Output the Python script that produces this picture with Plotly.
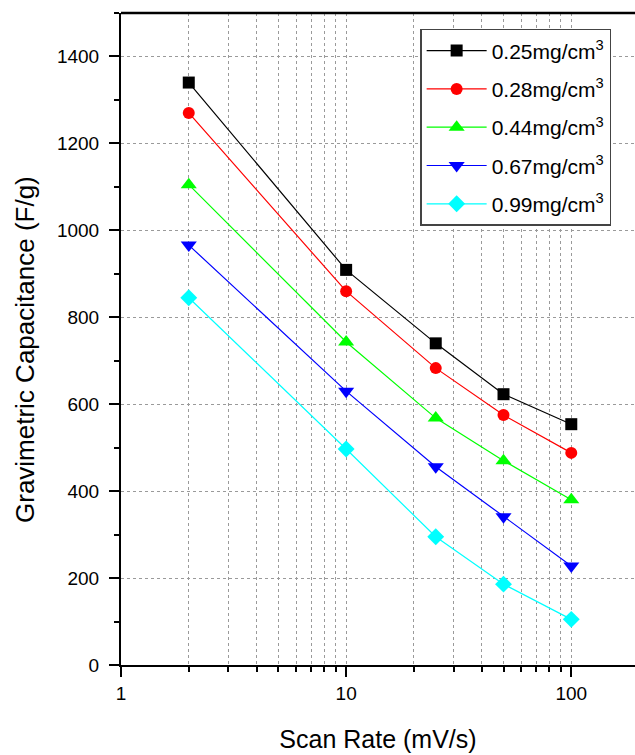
import plotly.graph_objects as go

scan_rate = [2, 10, 25, 50, 100]
labels = ["0.25mg/cm<sup>3</sup>", "0.28mg/cm<sup>3</sup>", "0.44mg/cm<sup>3</sup>",
          "0.67mg/cm<sup>3</sup>", "0.99mg/cm<sup>3</sup>"]
cap_025 = [1340, 909, 740, 623, 554]
cap_028 = [1270, 860, 683, 575, 488]
cap_044 = [1105, 743, 568, 470, 380]
cap_067 = [966, 630, 456, 341, 228]
cap_099 = [845, 497, 295, 186, 105]

series = [cap_025, cap_028, cap_044, cap_067, cap_099]
colors = ["#000000", "#FF0000", "#00FF00", "#0000FF", "#00FFFF"]
symbols = ["square", "circle", "triangle-up", "triangle-down", "diamond"]
sizes = [12, 12, 14, 14, 13]

FONT = "Arial, Liberation Sans, sans-serif"

fig = go.Figure()
for i, (vals, lab) in enumerate(zip(series, labels)):
    fig.add_trace(go.Scatter(
        x=scan_rate, y=vals, name=lab, mode="lines+markers",
        legendgroup=f"g{i}",
        line=dict(color=colors[i], width=1.2),
        marker=dict(symbol=symbols[i], size=sizes[i], color=colors[i], line=dict(width=0)),
    ))

grid_col = "#9a9a9a"
fig.update_layout(
    width=635, height=755,
    margin=dict(l=121, r=0, t=13, b=90),
    paper_bgcolor="white", plot_bgcolor="white",
    font=dict(family=FONT, size=18, color="black"),
    showlegend=True,
    legend=dict(
        x=0.582, y=0.9755, xanchor="left", yanchor="top",
        bgcolor="white", bordercolor="#444444", borderwidth=1.5,
        font=dict(family=FONT, size=21, color="black"),
        tracegroupgap=8, traceorder="grouped",
        itemwidth=60,
    ),
    xaxis=dict(
        type="log", range=[0, 2.283],
        tickvals=[1, 10, 100], ticktext=["1", "10", "100"],
        ticks="outside", ticklen=10, tickwidth=2, tickcolor="black",
        showline=True, linecolor="black", linewidth=2,
        showgrid=True, gridcolor=grid_col, griddash="dot", gridwidth=1,
        zeroline=False,
        minor=dict(dtick="D1", ticks="outside", ticklen=5, tickwidth=2, tickcolor="black",
                   showgrid=True, gridcolor=grid_col, griddash="dot", gridwidth=1),
        title=dict(text="Scan Rate (mV/s)", font=dict(family=FONT, size=25), standoff=28),
        tickfont=dict(family=FONT, size=19),
    ),
    yaxis=dict(
        range=[0, 1500], dtick=200, tick0=0,
        ticks="outside", ticklen=10, tickwidth=2, tickcolor="black",
        showline=True, linecolor="black", linewidth=2,
        showgrid=True, gridcolor=grid_col, griddash="dot", gridwidth=1,
        zeroline=False, ticklabelstandoff=6,
        minor=dict(dtick=100, ticks="outside", ticklen=5, tickwidth=2, tickcolor="black", showgrid=False),
        tickfont=dict(family=FONT, size=19),
    ),
)
fig.add_annotation(text="Gravimetric Capacitance (F/g)", textangle=-90,
                   xref="paper", yref="paper", x=0, y=(665 - 350) / 652,
                   xanchor="center", yanchor="middle", xshift=-96, showarrow=False,
                   font=dict(family=FONT, size=26, color="black"))
fig.add_shape(type="line", xref="paper", yref="paper", x0=0, x1=1, y0=1, y1=1,
              line=dict(color="black", width=2.5))

fig.write_html("out.html", config={"displayModeBar": False},
               post_script="document.body.style.margin='0';document.body.style.overflow='hidden';")
